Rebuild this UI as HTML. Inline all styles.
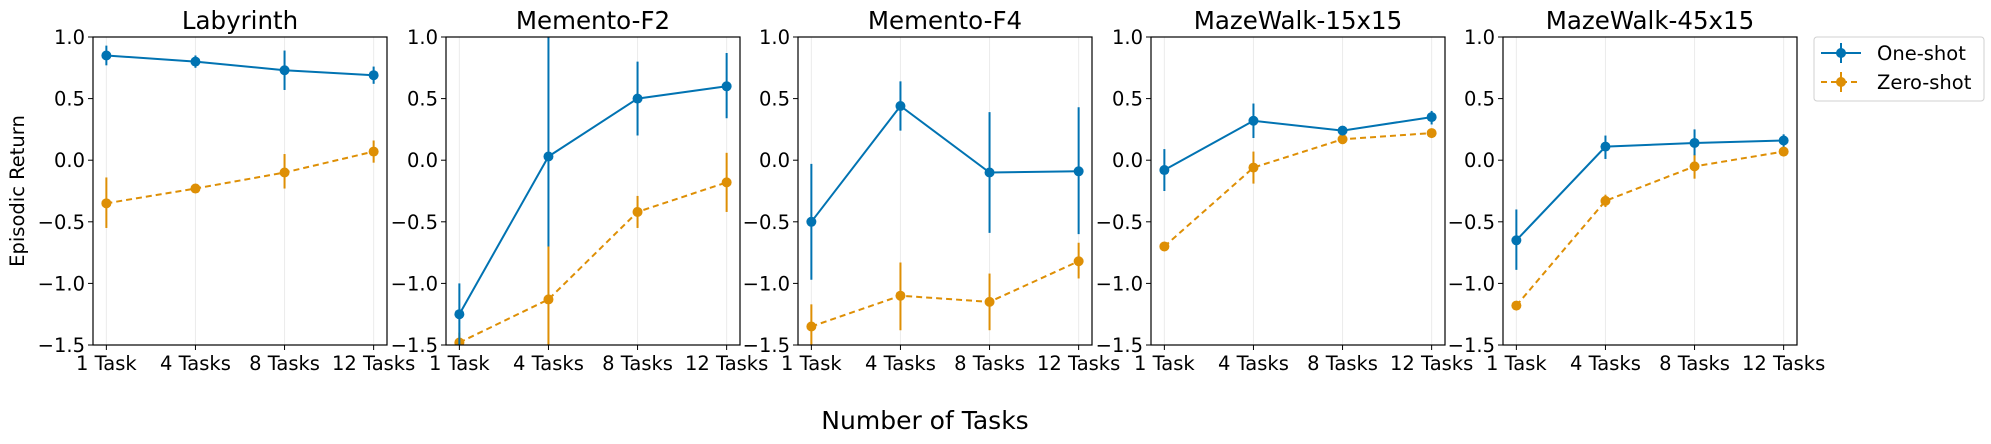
<!DOCTYPE html>
<html><head><meta charset="utf-8"><style>
body{margin:0;background:#fff;}
svg{display:block;font-family:"DejaVu Sans","Liberation Sans",sans-serif;}
</style></head><body>
<svg id="chart" width="1991" height="444" xmlns="http://www.w3.org/2000/svg"></svg>
<script>
const titles=["Labyrinth","Memento-F2","Memento-F4","MazeWalk-15x15","MazeWalk-45x15"];
const categories=["1 Task","4 Tasks","8 Tasks","12 Tasks"];
const yTicks=[1.0,0.5,0.0,-0.5,-1.0,-1.5];
const oneShot=[[0.85,0.80,0.73,0.69],[-1.25,0.03,0.50,0.60],[-0.50,0.44,-0.10,-0.09],[-0.08,0.32,0.24,0.35],[-0.65,0.11,0.14,0.16]];
const oneLo=[[0.77,0.75,0.57,0.62],[-1.50,-0.70,0.20,0.34],[-0.97,0.24,-0.59,-0.60],[-0.25,0.18,0.21,0.29],[-0.89,0.01,0.04,0.11]];
const oneHi=[[0.93,0.85,0.89,0.76],[-1.00,1.10,0.80,0.87],[-0.03,0.64,0.39,0.43],[0.09,0.46,0.27,0.40],[-0.40,0.20,0.25,0.21]];
const zeroShot=[[-0.35,-0.23,-0.10,0.07],[-1.48,-1.13,-0.42,-0.18],[-1.35,-1.10,-1.15,-0.82],[-0.70,-0.06,0.17,0.22],[-1.18,-0.33,-0.05,0.07]];
const zeroLo=[[-0.55,-0.24,-0.23,-0.02],[-1.60,-1.60,-0.55,-0.42],[-1.52,-1.38,-1.38,-0.96],[-0.72,-0.19,0.14,0.18],[-1.20,-0.38,-0.15,0.03]];
const zeroHi=[[-0.14,-0.22,0.05,0.16],[-1.40,-0.70,-0.29,0.06],[-1.17,-0.83,-0.92,-0.67],[-0.68,0.07,0.20,0.25],[-1.16,-0.28,0.05,0.11]];

const NS="http://www.w3.org/2000/svg";
const svg=document.getElementById('chart');
function mk(tag,attrs,parent){const e=document.createElementNS(NS,tag);for(const k in attrs)e.setAttribute(k,attrs[k]);(parent||svg).appendChild(e);return e;}
const panelLeft=[93,446,798,1151,1503], W=294, TOP=37, BOT=345;
const BLUE="#0173b2", ORANGE="#de8f05";
const yScale=v=>TOP+(1.0-v)/2.5*(BOT-TOP);
const fmt=v=>(v<0?"\u2212":"")+Math.abs(v).toFixed(1);

titles.forEach((t,p)=>{
  const L=panelLeft[p];
  const xScale=i=>L+(i+0.15)/3.3*W;
  const g=mk('g',{});
  
  
  const cp=mk('clipPath',{id:'cp'+p},g);
  mk('rect',{x:L,y:TOP,width:W,height:BOT-TOP},cp);
  categories.forEach((c,i)=>{
    const gl=mk('line',{x1:xScale(i),x2:xScale(i),y1:TOP,y2:BOT,stroke:'#ebebeb','stroke-width':1},g);
    
    
    mk('line',{x1:xScale(i),x2:xScale(i),y1:BOT,y2:BOT+5,stroke:'#000','stroke-width':1},g);
    const tx=mk('text',{x:xScale(i),y:BOT+25,'text-anchor':'middle','font-size':19.5},g);
    tx.textContent=c;
    
    
  });
  yTicks.forEach(v=>{
    mk('line',{x1:L-5,x2:L,y1:yScale(v),y2:yScale(v),stroke:'#000','stroke-width':1},g);
    const ty=mk('text',{x:L-8,y:yScale(v)+7,'text-anchor':'end','font-size':19.5},g);
    ty.textContent=fmt(v);
    
    
  });
  const series=[[zeroShot[p],zeroLo[p],zeroHi[p],ORANGE,'6,4','zero-shot'],[oneShot[p],oneLo[p],oneHi[p],BLUE,'','one-shot']];
  const dg=mk('g',{'clip-path':'url(#cp'+p+')'},g);
  series.forEach(([vals,lo,hi,col,dash,nm])=>{
    const pts=vals.map((v,i)=>xScale(i)+','+yScale(v)).join(' ');
    const pl=mk('polyline',{points:pts,fill:'none',stroke:col,'stroke-width':2,'stroke-dasharray':dash},dg);
    
    
    vals.forEach((v,i)=>{
      const eb=mk('line',{x1:xScale(i),x2:xScale(i),y1:yScale(lo[i]),y2:yScale(hi[i]),stroke:col,'stroke-width':2},dg);
      
      
      const c=mk('circle',{cx:xScale(i),cy:yScale(v),r:5,fill:col},dg);
      
      
    });
  });
  const fr=mk('rect',{x:L,y:TOP,width:W,height:BOT-TOP,fill:'none',stroke:'#000','stroke-width':1.2},g);
  
  
  const tt=mk('text',{x:L+W/2,y:29,'text-anchor':'middle','font-size':24.5},g);
  tt.textContent=t;
  
  
});
const yl=mk('text',{x:0,y:0,'text-anchor':'middle','font-size':19.5,transform:'translate(24,191) rotate(-90)'});
yl.textContent='Episodic Return';


const xl=mk('text',{x:925,y:429,'text-anchor':'middle','font-size':25});
xl.textContent='Number of Tasks';


// legend
const lg=mk('g',{});


mk('rect',{x:1814,y:37,width:170,height:64,rx:3,fill:'#fff',stroke:'#d0d0d0','stroke-width':1},lg);
[[BLUE,'','One-shot',53],[ORANGE,'6,4','Zero-shot',82]].forEach(([col,dash,lab,y])=>{
  const e=mk('g',{},lg);
  
  
  mk('line',{x1:1821,x2:1861,y1:y,y2:y,stroke:col,'stroke-width':2,'stroke-dasharray':dash},e);
  mk('line',{x1:1841,x2:1841,y1:y-10,y2:y+10,stroke:col,'stroke-width':2},e);
  mk('circle',{cx:1841,cy:y,r:5,fill:col},e);
  const t=mk('text',{x:1877,y:y+7,'font-size':19.5},e);
  t.textContent=lab;
});
</script>
</body></html>
